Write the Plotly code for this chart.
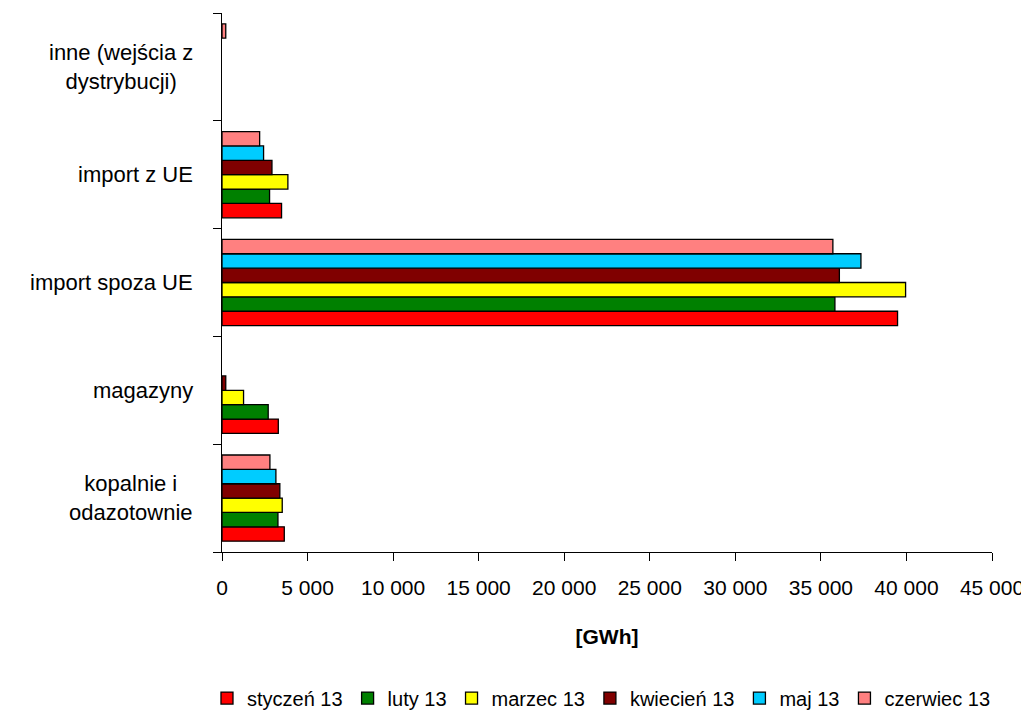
import plotly.graph_objects as go

categories = ["kopalnie i<br>odazotownie", "magazyny", "import spoza UE", "import z UE", "inne (wejścia z<br>dystrybucji)"]
series_names = ["styczeń 13", "luty 13", "marzec 13", "kwiecień 13", "maj 13", "czerwiec 13"]
styczen = [3640, 3290, 39480, 3480, None]
luty = [3270, 2700, 35820, 2780, None]
marzec = [3520, 1260, 39950, 3850, None]
kwiecien = [3380, 220, 36080, 2920, None]
maj = [3150, None, 37340, 2430, None]
czerwiec = [2800, None, 35700, 2200, 220]
colors = ["#FF0000", "#008000", "#FFFF00", "#800000", "#00CCFF", "#FF8080"]
x_ticks = list(range(0, 45001, 5000))
x_tick_labels = ["0" if v == 0 else f"{v//1000} 000" for v in x_ticks]

all_series = [styczen, luty, marzec, kwiecien, maj, czerwiec]
FONT = "Liberation Sans, Arial, sans-serif"

fig = go.Figure()
for name, vals, col in zip(series_names, all_series, colors):
    fig.add_trace(go.Bar(
        y=categories, x=vals, name=name, orientation="h",
        marker=dict(color=col, line=dict(color="black", width=1.3)),
    ))

for cat in categories:
    fig.add_annotation(
        x=0, xref="paper", xshift=-27, y=cat, yref="y", text=cat,
        showarrow=False, align="center", xanchor="right", yanchor="middle",
        font=dict(family=FONT, size=22, color="black"),
    )

fig.update_layout(
    width=1021, height=704,
    barmode="group", bargap=0.2, bargroupgap=0,
    plot_bgcolor="white", paper_bgcolor="white",
    margin=dict(l=214, r=37, t=5, b=160, autoexpand=False),
    font=dict(family=FONT, size=22, color="black"),
    legend=dict(orientation="h", x=-0.0195, xanchor="left",
                y=-0.271, yanchor="middle", traceorder="normal",
                font=dict(size=20), itemwidth=30, tracegroupgap=0),
    showlegend=True,
)
fig.update_xaxes(
    range=[0, 45000], tickvals=x_ticks, ticktext=x_tick_labels,
    showgrid=False, zeroline=False, showline=True, linecolor="black", linewidth=1,
    ticks="outside", ticklen=8, tickcolor="black", ticklabelstandoff=9,
    ticklabeloverflow="allow",
    title=dict(text="<b>[GWh]</b>", font=dict(size=21), standoff=31),
    tickfont=dict(size=21),
)
fig.update_yaxes(
    categoryorder="array", categoryarray=categories,
    showticklabels=False, showgrid=False, zeroline=False,
    showline=True, linecolor="black", linewidth=1,
    ticks="outside", ticklen=8, tickcolor="black", tickson="boundaries",
)

fig.write_html("out.html")
